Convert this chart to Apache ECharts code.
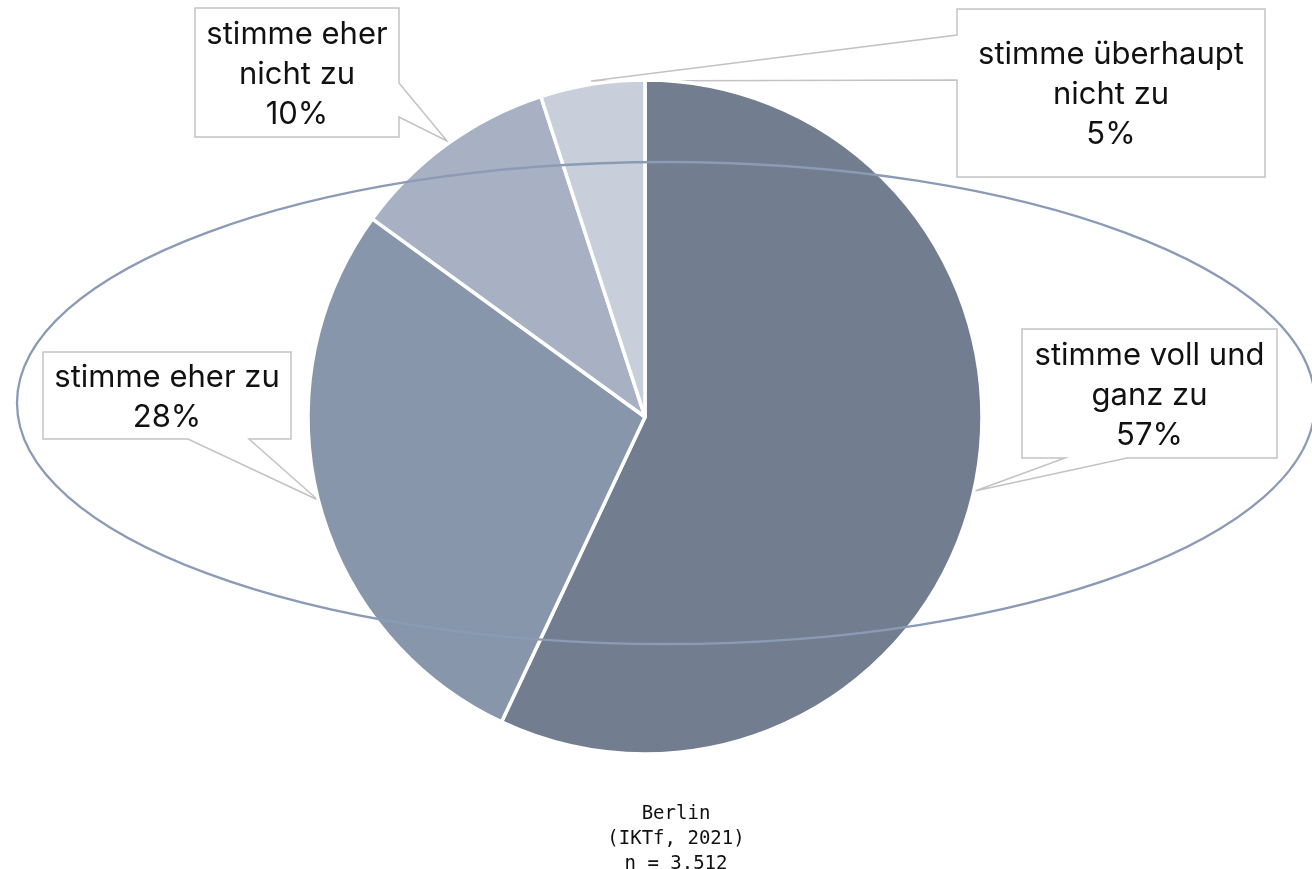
<!DOCTYPE html>
<html>
<head>
<meta charset="utf-8">
<script src="https://cdn.jsdelivr.net/npm/echarts@6/dist/echarts.min.js"></script>
<style>
  html, body { margin: 0; padding: 0; background: #fff; }
  #main { width: 1312px; height: 869px; }
</style>
</head>
<body>
<div id="main"></div>
<script>
// answers (label lines split like in the original)
var categories = ['stimme voll und\nganz zu', 'stimme eher zu', 'stimme eher\nnicht zu', 'stimme überhaupt\nnicht zu'];
var shares = [57, 28, 10, 5];
var sliceColors = ['#727d8f', '#8896ab', '#a8b1c3', '#c8ceda'];
var footnote = ['Berlin', '(IKTf, 2021)', 'n = 3.512'];

// callout boxes: [left, top, right, bottom] and pointer polygon points
var calloutBoxes = [
    [1022, 329, 1277, 458],
    [43, 352, 291, 439],
    [195, 8, 399, 137],
    [957, 9, 1265, 177]
];
var calloutShapes = [
    [[1022, 329], [1277, 329], [1277, 458], [1127, 458], [975, 491], [1065, 458], [1022, 458]],
    [[43, 352], [291, 352], [291, 439], [249, 439], [318, 500], [188, 439], [43, 439]],
    [[195, 8], [399, 8], [399, 83], [447, 141], [399, 117], [399, 137], [195, 137]],
    [[957, 9], [1265, 9], [1265, 177], [957, 177], [957, 80], [591, 81], [957, 35]]
];

var chartDom = document.getElementById('main');
var myChart = echarts.init(chartDom);
var option;

var pieData = [];
for (let i = 0; i < shares.length; i++) {
    pieData.push({ name: categories[i], value: shares[i], itemStyle: { color: sliceColors[i] } });
}

var graphics = [];
calloutShapes.forEach(function (pts) {
    graphics.push({
        type: 'polygon',
        z: 1,
        shape: { points: pts },
        style: { fill: '#fff', stroke: '#c3c3c3', lineWidth: 1.5 }
    });
});
// ring around the pie
graphics.push({
    type: 'ellipse',
    z: 10,
    silent: true,
    shape: { cx: 666, cy: 403, rx: 649, ry: 241 },
    style: { fill: null, stroke: '#8b9bb6', lineWidth: 2.3 }
});

option = {
    animation: false,
    backgroundColor: '#fff',
    title: {
        text: footnote.join('\n'),
        left: 671,
        top: 797,
        textAlign: 'center',
        textStyle: {
            fontFamily: 'DejaVu Sans Mono',
            fontSize: 19,
            fontWeight: 'normal',
            lineHeight: 25,
            color: '#111'
        }
    },
    graphic: { elements: graphics },
    series: [
        {
            type: 'pie',
            center: [645, 417],
            radius: 337,
            startAngle: 90,
            clockwise: true,
            avoidLabelOverlap: false,
            z: 2,
            itemStyle: { borderColor: '#fff', borderWidth: 3.5 },
            label: {
                show: true,
                position: 'outside',
                formatter: function (p) { return p.name + '\n' + p.value + '%'; },
                fontFamily: 'Inter',
                fontSize: 31,
                lineHeight: 40,
                color: '#111',
                align: 'center'
            },
            labelLine: { show: false },
            labelLayout: function (params) {
                var b = calloutBoxes[params.dataIndex];
                return {
                    x: (b[0] + b[2]) / 2,
                    y: (b[1] + b[3]) / 2 + 2,
                    align: 'center',
                    verticalAlign: 'middle'
                };
            },
            emphasis: { disabled: true },
            data: pieData
        }
    ]
};

option && myChart.setOption(option);
</script>
</body>
</html>
